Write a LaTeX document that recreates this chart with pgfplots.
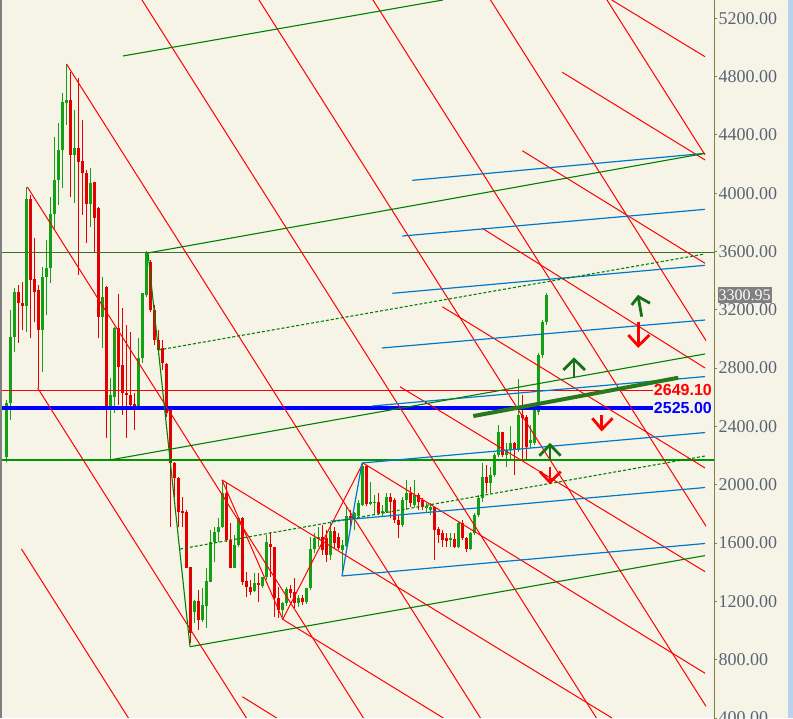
\documentclass[border=0pt]{standalone}
\usepackage{fontspec}
\setmainfont{Liberation Serif}
\newfontfamily\labsans{Liberation Sans}
\usepackage{pgfplots}
\usepackage{pgfplotstable}
\pgfplotsset{compat=1.18}
\definecolor{bgc}{RGB}{246,244,231}
\definecolor{cg}{RGB}{20,160,20}
\definecolor{cr}{RGB}{228,0,0}
\definecolor{lred}{RGB}{255,0,0}
\definecolor{lgreen}{RGB}{0,128,0}
\definecolor{hgreen}{RGB}{0,150,0}
\definecolor{h1c}{RGB}{60,110,40}
\definecolor{lblue}{RGB}{0,120,200}
\definecolor{tgreen}{RGB}{40,120,30}
\definecolor{agreen}{RGB}{20,115,20}
\definecolor{olivec}{RGB}{128,128,64}
\definecolor{tickc}{RGB}{90,100,115}
\definecolor{stripc}{RGB}{185,210,238}

\pgfplotstableread{
x lo hi blo bhi
6 2156 2581 2190 2561
10 2444 3199 2561 3013
14 2911 3349 3013 3322
26 3048 4042 3226 3960
42 2773 3494 3061 3425
46 3164 3679 3425 3487
50 3384 3974 3487 3857
54 3747 4385 3857 4090
58 3919 4481 4090 4296
62 4035 4687 4296 4625
66 4468 4886 4618 4639
74 3933 4570 4262 4310
90 3768 4173 3926 4070
102 2938 3425 3151 3288
110 2170 2732 2533 2616
114 2492 3082 2602 3075
138 2513 3007 2526 2869
142 2835 3315 2869 3315
146 3288 3603 3301 3590
194 1052 1209 1127 1203
202 1059 1292 1072 1175
206 1017 1429 1168 1340
210 1333 1690 1333 1607
214 1470 1710 1607 1676
218 1607 1772 1676 1710
222 1703 2033 1710 1943
234 1429 1655 1429 1587
238 1573 1779 1587 1772
254 1264 1395 1271 1326
262 1292 1367 1305 1367
266 1347 1655 1367 1607
282 1093 1196 1141 1189
286 1168 1299 1189 1285
298 1161 1244 1189 1223
306 1182 1292 1196 1292
310 1278 1642 1292 1559
314 1532 1669 1559 1635
318 1573 1710 1628 1642
330 1484 1744 1518 1683
342 1381 1621 1552 1587
346 1573 1847 1580 1786
354 1690 1813 1772 1806
358 1779 1895 1786 1875
362 1854 2149 1861 2129
370 1861 2019 1868 1882
374 1792 1930 1875 1882
382 1786 1861 1806 1820
386 1806 1943 1813 1916
402 1710 1916 1724 1895
406 1827 2033 1895 1943
414 1847 2033 1861 1930
426 1806 1875 1840 1854
430 1792 1875 1827 1847
450 1573 1669 1621 1635
458 1566 1744 1573 1738
470 1552 1676 1559 1669
474 1655 1806 1669 1792
478 1779 1930 1792 1909
482 1882 2149 1909 2053
490 1943 2122 2012 2067
494 2053 2218 2067 2204
498 2190 2410 2204 2362
506 2122 2286 2204 2238
510 2170 2403 2238 2286
518 2225 2725 2238 2478
530 2252 2410 2286 2307
534 2273 2526 2286 2513
538 2478 2904 2499 2890
542 2869 3130 2890 3116
546 3096 3315 3116 3301
}\greenc

\pgfplotstableread{
x lo hi blo bhi
18 2972 3370 3247 3322
22 3061 3391 3226 3247
30 3007 3987 3404 3960
34 3116 3692 3322 3411
38 2664 3370 3061 3336
70 3974 4831 4262 4639
78 3439 4790 4214 4310
82 3850 4502 4138 4221
86 3658 4159 3926 4138
94 3596 4077 3830 4077
98 3007 3905 3151 3898
106 2321 3363 2533 3356
118 2547 3308 2808 3075
122 2478 3212 2629 2821
126 2321 3096 2616 2629
130 2513 3048 2547 2616
134 2376 2629 2520 2554
150 3185 3542 3199 3528
154 2959 3233 2993 3199
158 2890 3061 2924 2993
162 2787 2993 2835 2938
166 2465 2835 2492 2828
170 1710 2533 2149 2526
174 1909 2156 2046 2149
178 1710 2053 1813 2046
182 1710 1916 1806 1820
186 1429 1827 1429 1813
190 914 1436 983 1436
198 1004 1278 1072 1203
226 1607 2019 1621 1943
230 1429 1738 1429 1621
242 1312 1779 1333 1772
246 1230 1401 1299 1340
250 1244 1347 1264 1299
258 1196 1395 1312 1326
270 1367 1676 1573 1594
274 1093 1573 1223 1573
278 1086 1299 1141 1223
290 1223 1312 1257 1285
294 1155 1360 1189 1264
302 1175 1244 1196 1223
322 1518 1724 1552 1642
326 1470 1690 1518 1635
334 1566 1710 1600 1683
338 1552 1669 1566 1642
350 1703 1827 1772 1786
366 1854 2135 1868 2129
378 1792 1943 1806 1882
390 1772 1943 1882 1916
394 1738 1909 1758 1895
398 1635 1792 1724 1758
410 1847 1985 1875 1943
418 1827 1943 1882 1930
422 1827 1909 1847 1895
434 1484 1847 1690 1847
438 1600 1710 1655 1696
442 1573 1690 1621 1669
446 1573 1669 1614 1635
454 1566 1669 1573 1628
462 1621 1758 1635 1738
466 1539 1642 1559 1635
486 1943 2135 2012 2053
502 2190 2362 2204 2362
514 2067 2293 2238 2286
522 2170 2616 2458 2478
526 2170 2478 2259 2465
}\redc

\newcommand\seg[5]{\addplot[#1] coordinates {(#2,#3) (#4,#5)};}

\pgfplotsset{
  redl/.style={draw=lred, line width=1pt},
  bluel/.style={draw=lblue, line width=1.2pt},
  greenl/.style={draw=lgreen, line width=1.1pt},
  dashg/.style={draw=lgreen, line width=1.1pt, dash pattern=on 3pt off 2pt},
  arrg/.style={draw=agreen, line width=2.8pt, line join=miter},
  arrr/.style={draw=lred, line width=2.8pt, line join=miter},
}

\begin{document}
\begin{tikzpicture}
\fill[bgc] (0,0) rectangle (793pt,718pt);
\fill[stripc] (788pt,0) rectangle (793pt,718pt);
\begin{axis}[
  at={(0,0)}, anchor=south west,
  scale only axis, width=714pt, height=718pt,
  xmin=0, xmax=714, ymin=400, ymax=5325,
  enlargelimits=false,
  axis x line=none, axis y line*=right,
  axis line style={draw=olivec, line width=1pt, -},
  ytick={400,800,...,5200},
  tick align=outside, major tick length=3pt,
  tick style={draw=olivec, line width=1pt},
  yticklabel style={font=\fontsize{18}{20}\selectfont, text=tickc, anchor=west, xshift=-2pt,
    /pgf/number format/.cd, fixed, fixed zerofill, precision=2, 1000 sep={}, assume math mode=true},
  clip mode=individual,
]
% candles: wicks then bodies
\addplot[draw=none, forget plot, error bars/.cd, y dir=plus, y explicit, error mark=none,
  error bar style={draw=cg, line width=1pt, solid}]
  table[x=x, y=lo, y error plus expr={\thisrow{hi}-\thisrow{lo}}] {\greenc};
\addplot[draw=none, forget plot, error bars/.cd, y dir=plus, y explicit, error mark=none,
  error bar style={draw=cg, line width=3pt, solid}]
  table[x=x, y=blo, y error plus expr={\thisrow{bhi}-\thisrow{blo}}] {\greenc};
\addplot[draw=none, forget plot, error bars/.cd, y dir=plus, y explicit, error mark=none,
  error bar style={draw=cr, line width=1pt, solid}]
  table[x=x, y=lo, y error plus expr={\thisrow{hi}-\thisrow{lo}}] {\redc};
\addplot[draw=none, forget plot, error bars/.cd, y dir=plus, y explicit, error mark=none,
  error bar style={draw=cr, line width=3pt, solid}]
  table[x=x, y=blo, y error plus expr={\thisrow{bhi}-\thisrow{blo}}] {\redc};

% horizontal levels
\seg{draw=h1c, line width=1.1pt}{0}{3590}{714}{3590}
\seg{draw=hgreen, line width=1.2pt}{0}{2170}{714}{2170}
\seg{draw=lred, line width=1.2pt}{0}{2649.1}{653}{2649.1}
\seg{draw=blue, line width=3.5pt}{0}{2525}{653}{2525}

% steep red family
\seg{redl}{21.5}{1559}{128.4}{400}
\seg{redl}{37.6}{2664}{246.4}{400}
\seg{redl}{27.4}{4042}{363.4}{400}
\seg{redl}{66.5}{4886}{480.4}{400}
\seg{redl}{142}{5325}{596.4}{400}
\seg{redl}{259}{5325}{706}{480}
\seg{redl}{373}{5325}{706}{1716}
\seg{redl}{490.5}{5325}{706}{2989}
\seg{redl}{607}{5325}{705}{4263}
% shallower red family
\seg{redl}{611.7}{5325}{705}{4936}
\seg{redl}{562.3}{4829}{705}{4228}
\seg{redl}{522.3}{4291}{705}{3519}
\seg{redl}{482.3}{3759}{705}{2801}
\seg{redl}{442.3}{3221}{705}{2115}
\seg{redl}{400}{2672}{705}{1404}
\seg{redl}{363}{2149}{705}{707}
\seg{redl}{222}{2033}{612}{400}
\seg{redl}{282.7}{1077}{443.3}{400}
\seg{redl}{242.3}{546}{276.7}{400}
\seg{redl}{222}{2033}{282.7}{1077}
\seg{redl}{282.7}{1077}{363}{2149}

% blue family
\seg{bluel}{412.3}{4088}{705}{4273}
\seg{bluel}{402.3}{3706}{705}{3889}
\seg{bluel}{392.3}{3313}{705}{3505}
\seg{bluel}{382}{2938}{705}{3130}
\seg{bluel}{372}{2540}{705}{2742}
\seg{bluel}{362}{2149}{705}{2358}
\seg{bluel}{331}{1751}{705}{1981}
\seg{bluel}{342}{1374}{705}{1597}
\seg{bluel}{342}{1374}{362}{2149}

% green family
\seg{greenl}{123}{4941}{443}{5325}
\seg{greenl}{148}{3590}{705}{4273}
\seg{greenl}{110}{2170}{705}{2897}
\seg{greenl}{190}{889}{705}{1514}
\seg{greenl}{148}{3590}{190}{889}
\seg{dashg}{158.4}{2924}{705}{3583}
\seg{dashg}{180}{1559}{705}{2197}

% thick trend line
\seg{draw=tgreen, line width=4pt}{473.3}{2471}{678.3}{2734}

% arrows
\addplot[arrg] coordinates {(641.7,3153) (638.3,3285)};
\addplot[arrg] coordinates {(631.7,3233) (638.3,3290) (650,3245)};
\addplot[arrr] coordinates {(638.3,3118) (638.3,2957)};
\addplot[arrr] coordinates {(628.3,3027) (638.3,2952) (649.3,3027)};
\addplot[arrg] coordinates {(574,2730) (574,2855)};
\addplot[arrg] coordinates {(563.3,2787) (574,2860) (585,2787)};
\addplot[arrr] coordinates {(601.7,2478) (601.7,2385)};
\addplot[arrr] coordinates {(592.3,2456) (601.7,2380) (612.7,2456)};
\addplot[arrg] coordinates {(550,2170) (550,2268)};
\addplot[arrg] coordinates {(539.3,2199) (550,2273) (560.7,2199)};
\addplot[arrr] coordinates {(550,2124) (550,2022)};
\addplot[arrr] coordinates {(540,2090) (550,2017) (560.7,2090)};

% labels
\node[anchor=east, text=lred, font=\labsans\bfseries\fontsize{16}{18}\selectfont, inner sep=0pt] at (axis cs:712,2649.1) {2649.10};
\node[anchor=east, text=blue, font=\labsans\bfseries\fontsize{16}{18}\selectfont, inner sep=0pt] at (axis cs:712,2525) {2525.00};
\node[fill=gray, text=white, font=\fontsize{16}{18}\selectfont, inner sep=1pt, minimum width=54pt, minimum height=16pt] at (axis cs:744.5,3301) {3300.95};
\end{axis}
\draw[gray, line width=1.5pt] (0.75pt,0) -- (0.75pt,718pt);
\pgfresetboundingbox
\path[use as bounding box] (0,0) rectangle (793pt,718pt);
\end{tikzpicture}
\end{document}
